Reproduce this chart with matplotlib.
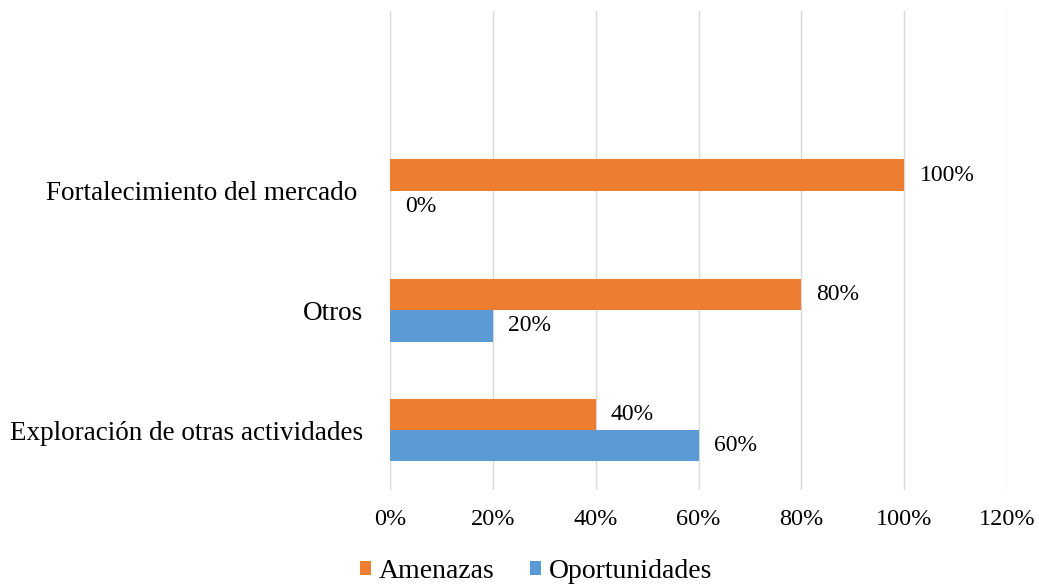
import matplotlib.pyplot as plt
import numpy as np

plt.rcParams['font.family'] = ['Liberation Serif', 'DejaVu Serif']

# categories from bottom to top (top slot is empty, like the original)
categorias = ["Exploración de otras actividades", "Otros", "Fortalecimiento del mercado ", ""]
amenazas = [0.40, 0.80, 1.00, np.nan]
oportunidades = [0.60, 0.20, 0.00, np.nan]
ticks = [0, 0.2, 0.4, 0.6, 0.8, 1.0, 1.2]
tick_labels = ["0%", "20%", "40%", "60%", "80%", "100%", "120%"]

naranja = "#ED7D31"
azul = "#5B9BD5"

fig = plt.figure(figsize=(10.39, 5.84), dpi=100)
ax = fig.add_axes([390 / 1039, 1 - 490 / 584, 617 / 1039, 479 / 584])

y = np.arange(len(categorias))
h = 0.26
b1 = ax.barh(y + h / 2, amenazas, height=h, color=naranja, label="Amenazas", zorder=2)
b2 = ax.barh(y - h / 2, oportunidades, height=h, color=azul, label="Oportunidades", zorder=2)

for bars, vals in [(b1, amenazas), (b2, oportunidades)]:
    for rect, v in zip(bars, vals):
        if np.isnan(v):
            continue
        ax.annotate("{:.0f}%".format(v * 100), (v, rect.get_y() + rect.get_height() / 2),
                    xytext=(11, 0), textcoords="offset points", va="center", ha="left",
                    fontsize=17, color="#000000")

ax.set_xlim(0, 1.2)
ax.set_ylim(-0.5, len(categorias) - 0.5)
ax.set_xticks(ticks)
ax.set_xticklabels(tick_labels, fontsize=17.5)
ax.set_yticks(y)
ax.set_yticklabels(categorias, fontsize=19.5)
ax.tick_params(axis='x', length=0, pad=14)
ax.tick_params(axis='y', length=0, pad=19)
ax.xaxis.grid(True, color="#D9D9D9", linewidth=1, zorder=0)
ax.set_axisbelow(True)
for s in ax.spines.values():
    s.set_visible(False)

fig.legend(handles=[b1, b2], loc="center", bbox_to_anchor=(536 / 1039, 1 - 571 / 584),
           ncol=2, frameon=False, fontsize=20, handlelength=0.4, handleheight=0.4,
           handletextpad=0.3, columnspacing=1.25, borderpad=0)

fig.savefig("out.png", dpi=100)
